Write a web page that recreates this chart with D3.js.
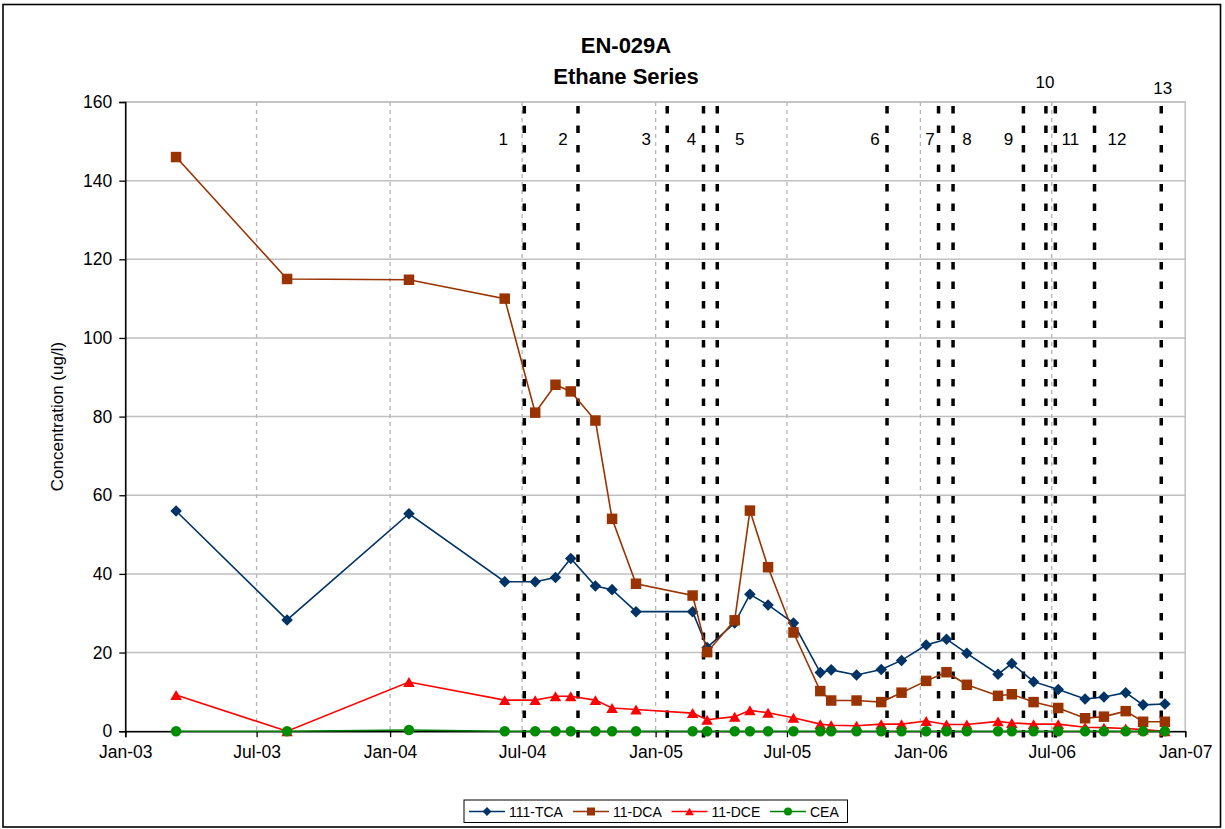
<!DOCTYPE html>
<html><head><meta charset="utf-8">
<script src="https://cdn.jsdelivr.net/npm/d3@7"></script>
<style>body{margin:0;background:#fff;} svg{display:block;font-family:"Liberation Sans",Arial,sans-serif;}</style>
</head><body><svg id="chart" width="1225" height="829"></svg>
<script>
// ---------- data ----------
const sampleDates = ["2003-03-12","2003-08-12","2004-01-27","2004-06-07","2004-07-19","2004-08-16","2004-09-06","2004-10-10","2004-11-02","2004-12-05",
  "2005-02-21","2005-03-13","2005-04-20","2005-05-11","2005-06-05","2005-07-10","2005-08-16","2005-08-31","2005-10-05","2005-11-08","2005-12-06",
  "2006-01-09","2006-02-06","2006-03-06","2006-04-18","2006-05-07","2006-06-06","2006-07-10","2006-08-16","2006-09-11","2006-10-11","2006-11-04","2006-12-04"];
const tca = [56.0,28.3,55.3,38.0,38.0,39.1,43.9,36.9,36.0,30.4,30.4,21.3,27.5,34.8,32.1,27.5,14.9,15.6,14.3,15.7,18.0,21.9,23.4,19.8,14.5,17.2,12.6,10.6,8.2,8.7,9.8,6.7,6.9];
const dca = [146.0,115.0,114.8,110.0,81.0,88.1,86.4,79.0,54.0,37.5,34.5,20.1,28.2,56.1,41.7,25.1,10.2,7.8,7.8,7.4,9.8,12.8,15.0,11.8,9.0,9.4,7.4,5.9,3.3,3.7,5.1,2.4,2.4];
const dce = [9.2,0,12.5,7.9,7.9,8.9,8.9,7.9,5.9,5.5,4.6,2.9,3.7,5.3,4.7,3.4,1.8,1.5,1.4,1.8,1.8,2.6,1.7,1.7,2.5,2.1,1.8,1.8,1.0,0.9,0.7,0.4,0.0];
const cea = [0,0,0.3,0,0,0,0,0,0,0,0,0,0,0,0,0,0,0,0,0,0,0,0,0,0,0,0,0,0,0,0,0,0];
const seriesNames = ["111-TCA","11-DCA","11-DCE","CEA"];
const eventDates = ["2004-07-04","2004-09-16","2005-01-17","2005-03-08","2005-03-27","2005-11-16","2006-01-26","2006-02-15","2006-05-23","2006-06-23","2006-07-06","2006-08-29","2006-11-29"];
const eventLabels = ["1","2","3","4","5","6","7","8","9","10","11","12","13"];
const yTicks = [0,20,40,60,80,100,120,140,160];
const xTickDates = ["2003-01-01","2003-07-01","2004-01-01","2004-07-01","2005-01-01","2005-07-01","2006-01-01","2006-07-01","2007-01-01"];
const titleLines = ["EN-029A","Ethane Series"];
const yTitle = "Concentration (ug/l)";

// ---------- layout / style ----------
const plot = {left:125.3, right:1185.2, top:102, bottom:731.2};
// label offsets relative to event line (px)
const eventLabelLayout = [
  {dx:-21,y:145},{dx:-15,y:145},{dx:-21,y:145},{dx:-12,y:145},{dx:22.5,y:145},{dx:-12,y:145},{dx:-8.5,y:145},
  {dx:14,y:145},{dx:-15,y:145},{dx:-1,y:88},{dx:15,y:145},{dx:22.5,y:145},{dx:1.5,y:94}];
const colors = ["#003366","#993300","#ff0000","#008000"];
const markerColors = ["#003366","#993300","#ff0000","#008c00"];

const parse = d3.timeParse("%Y-%m-%d");
const dates = sampleDates.map(parse);
const svg = d3.select("#chart");

const x = d3.scaleTime().domain([parse("2003-01-01"), parse("2007-01-01")]).range([plot.left, plot.right]);
const y = d3.scaleLinear().domain([0,160]).range([plot.bottom, plot.top]);

// outer border
svg.append("rect").attr("x",3).attr("y",4.5).attr("width",1217.5).attr("height",822.5)
  .attr("fill","#fff").attr("stroke","#000").attr("stroke-width",1.6);

// plot area border
svg.append("rect").attr("x",plot.left).attr("y",plot.top).attr("width",plot.right-plot.left).attr("height",plot.bottom-plot.top)
  .attr("fill","none").attr("stroke","#c0c0c0").attr("stroke-width",1.5);

// horizontal gridlines
svg.append("g").selectAll("line").data(yTicks.filter(d=>d>0)).join("line")
  .attr("x1",plot.left).attr("x2",plot.right).attr("y1",d=>y(d)).attr("y2",d=>y(d))
  .attr("stroke","#c0c0c0").attr("stroke-width",1.5);

// vertical dashed gridlines
const xTicks = xTickDates.map(parse);
svg.append("g").selectAll("line").data(xTicks.slice(1,-1)).join("line")
  .attr("x1",d=>x(d)).attr("x2",d=>x(d)).attr("y1",plot.top).attr("y2",plot.bottom)
  .attr("stroke","#b8b8b8").attr("stroke-width",1.4).attr("stroke-dasharray","4,4");

// event lines
svg.append("g").selectAll("line").data(eventDates.map(parse)).join("line")
  .attr("x1",d=>x(d)).attr("x2",d=>x(d)).attr("y1",106).attr("y2",740)
  .attr("stroke","#000").attr("stroke-width",3.5).attr("stroke-dasharray","7.5,12");

// event labels
svg.append("g").selectAll("text").data(eventLabels).join("text")
  .attr("x",(d,i)=>x(parse(eventDates[i]))+eventLabelLayout[i].dx)
  .attr("y",(d,i)=>eventLabelLayout[i].y)
  .attr("text-anchor","middle").attr("font-size",17).attr("fill","#000").text(d=>d);

// axes
const yAxis = d3.axisLeft(y).tickValues(yTicks).tickSize(6).tickPadding(7).tickFormat(d3.format("d"));
const gy = svg.append("g").attr("transform",`translate(${plot.left},0)`).call(yAxis);
gy.select(".domain").attr("stroke","#000").attr("stroke-width",1.5);
gy.selectAll(".tick line").attr("stroke","#000").attr("stroke-width",1.3);
gy.selectAll("text").attr("font-size",17.5).attr("font-family","'Liberation Sans',Arial,sans-serif").attr("fill","#000");

const xAxis = d3.axisBottom(x).tickValues(xTicks).tickSize(6).tickPadding(8).tickFormat(d3.timeFormat("%b-%y"));
const gx = svg.append("g").attr("transform",`translate(0,${plot.bottom})`).call(xAxis);
gx.select(".domain").attr("stroke","#000").attr("stroke-width",1.5);
gx.selectAll(".tick line").attr("stroke","#000").attr("stroke-width",1.3);
gx.selectAll("text").attr("font-size",17.5).attr("font-family","'Liberation Sans',Arial,sans-serif").attr("fill","#000");

// marker generators
function markerPath(type, s){
  if(type===0){ const r=s*0.55; return `M0,${-r}L${r},0L0,${r}L${-r},0Z`; }
  if(type===1){ const r=s*0.5; return `M${-r},${-r}H${r}V${r}H${-r}Z`; }
  if(type===2){ const w=s*1.1, h=s*0.95; return `M0,${-h/2}L${w/2},${h/2}L${-w/2},${h/2}Z`; }
  const r=s*0.5; return `M${r},0A${r},${r},0,1,1,${-r},0A${r},${r},0,1,1,${r},0Z`;
}

const allSeries = [tca,dca,dce,cea];
const line = d3.line().x(d=>x(d[0])).y(d=>y(d[1]));
allSeries.forEach((vals,si)=>{
  const pts = vals.map((v,i)=>[dates[i],v]);
  const g = svg.append("g");
  g.append("path").attr("d",line(pts)).attr("fill","none").attr("stroke",colors[si]).attr("stroke-width",1.6);
  g.selectAll("path.m").data(pts).join("path").attr("class","m")
    .attr("transform",d=>`translate(${x(d[0])},${y(d[1])})`)
    .attr("d",markerPath(si,10.5)).attr("fill",markerColors[si]);
});

// titles
svg.append("text").attr("x",626).attr("y",53).attr("text-anchor","middle").attr("font-size",22).attr("font-weight","bold").text(titleLines[0]);
svg.append("text").attr("x",626).attr("y",84).attr("text-anchor","middle").attr("font-size",22).attr("font-weight","bold").text(titleLines[1]);

// y title
svg.append("text").attr("transform",`translate(63,${(plot.top+plot.bottom)/2}) rotate(-90)`).attr("text-anchor","middle")
  .attr("font-size",17).text(yTitle);

// legend
const lg = svg.append("g");
lg.append("rect").attr("x",464).attr("y",800).attr("width",383.5).attr("height",22.5).attr("fill","#fff").attr("stroke","#000").attr("stroke-width",1);
const legendItemX = [469, 573, 671.5, 770];
seriesNames.forEach((n,i)=>{
  const x0 = legendItemX[i];
  lg.append("line").attr("x1",x0).attr("x2",x0+36).attr("y1",811.5).attr("y2",811.5).attr("stroke",colors[i]).attr("stroke-width",1.6);
  lg.append("path").attr("transform",`translate(${x0+18},811.5)`).attr("d",markerPath(i,8)).attr("fill",markerColors[i]);
  lg.append("text").attr("x",x0+40).attr("y",816.5).attr("font-size",14).text(n);
});
</script></body></html>
